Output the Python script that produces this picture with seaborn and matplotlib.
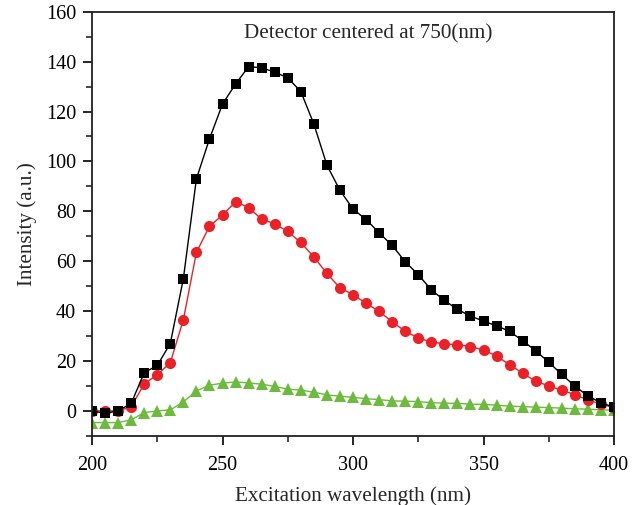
import pandas as pd
import matplotlib
matplotlib.use("Agg")
import matplotlib.pyplot as plt
import seaborn as sns
from matplotlib.ticker import MultipleLocator

# ---- data ----
wavelength = list(range(200, 405, 5))

black = [0, -1, 0, 3, 15.3, 18.2, 27, 53, 93, 109, 123, 131, 138, 137.5, 135.8, 133.5,
         128, 115, 98.5, 88.4, 80.9, 76.7, 71.4, 66.3, 59.8, 54.6, 48.5, 44.3, 40.7,
         38, 36, 34.1, 31.9, 28.1, 24.1, 19.5, 14.6, 9.9, 6, 3.2, 1.5]

red = [0, 0, 0, 1.6, 10.8, 14.5, 19.3, 36.5, 63.5, 74, 78.5, 83.8, 81.5, 76.8, 75,
       71.9, 67.5, 61.7, 55.1, 49.3, 46.6, 43.1, 39.9, 35.7, 31.9, 29.2, 27.6, 26.9,
       26.5, 25.8, 24.4, 22, 18.5, 15.1, 11.9, 10, 8.3, 6.5, 4.4, 2.7, 1.3]

green = [-4.7, -4.7, -4.7, -3.6, -0.7, 0, 0.4, 3.6, 8, 10.3, 11.1, 11.6, 11.2, 10.7,
         9.8, 8.7, 8.3, 7.5, 6.4, 5.9, 5.4, 4.9, 4.5, 4.0, 3.9, 3.7, 3.3, 3.1, 3.0,
         2.7, 2.6, 2.3, 1.9, 1.7, 1.5, 1.3, 1.1, 0.8, 0.7, 0.4, 0.3]

df = pd.DataFrame({"wl": wavelength, "black": black, "red": red, "green": green})

# ---- style ----
sns.set_style("ticks")
plt.rcParams["font.family"] = ["Liberation Serif", "DejaVu Serif"]

fig = plt.figure(figsize=(6.43, 5.05), dpi=100)
ax = fig.add_axes([0.1431, 0.1370, 0.8118, 0.8398])

series = [
    ("green", "#6cbb3c", "^", 8.5),
    ("red", "#ec2127", "o", 8),
    ("black", "black", "s", 7),
]
for col, c, m, ms in series:
    sns.lineplot(data=df, x="wl", y=col, ax=ax, color=c, marker=m,
                 markersize=ms, markeredgewidth=0, linewidth=1.0)

ax.set_xlim(200, 400)
ax.set_ylim(-10, 160)
ax.xaxis.set_major_locator(MultipleLocator(50))
ax.xaxis.set_minor_locator(MultipleLocator(25))
ax.yaxis.set_major_locator(MultipleLocator(20))
ax.yaxis.set_minor_locator(MultipleLocator(10))
ax.tick_params(which="major", length=6.5, width=1.2, labelsize=14.5, colors="black")
ax.tick_params(which="minor", length=4, width=1.2)
ax.tick_params(axis="x", which="major", pad=8)
ax.tick_params(axis="y", which="major", pad=5)
for s in ax.spines.values():
    s.set_linewidth(1.3)
    s.set_color("#222222")

ax.set_xlabel("Excitation wavelength (nm)", fontsize=15.2, labelpad=8)
ax.set_ylabel("Intensity (a.u.)", fontsize=15.2, labelpad=6)
ax.text(306, 151, "Detector centered at 750(nm)", ha="center", va="center", fontsize=15.2)

fig.savefig("out.png", dpi=100)
